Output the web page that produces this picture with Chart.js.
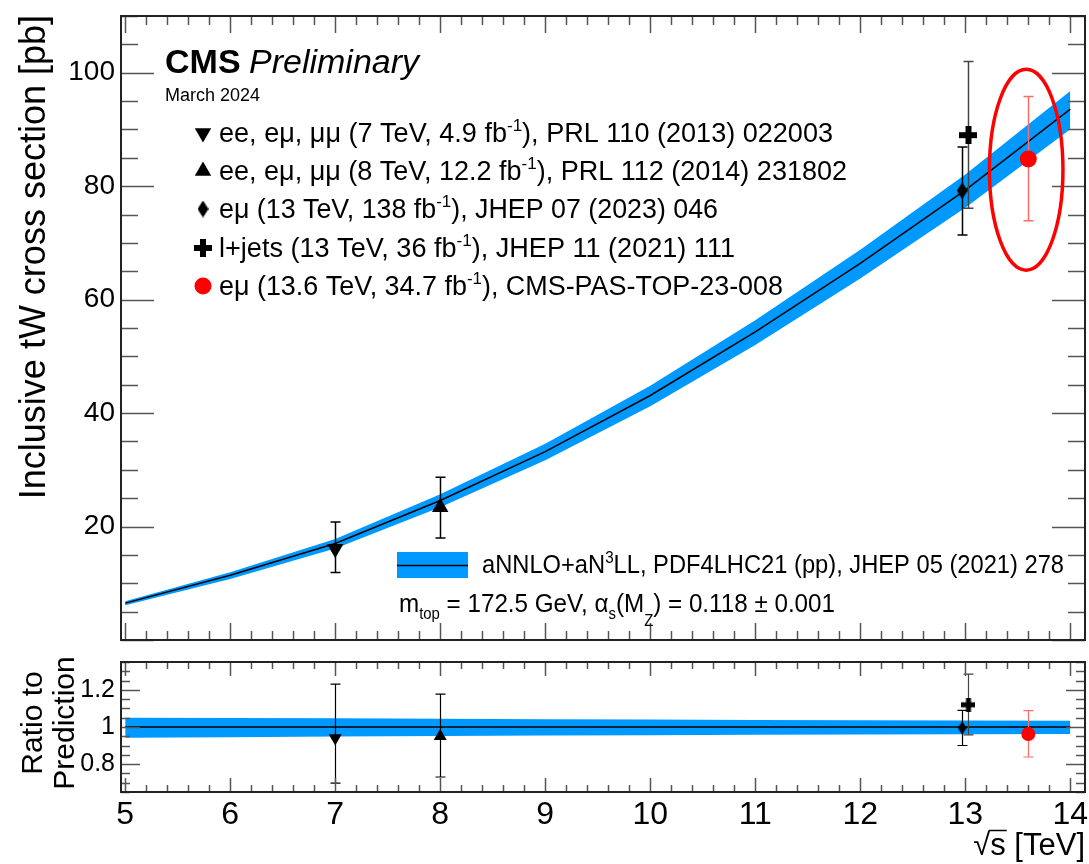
<!DOCTYPE html>
<html>
<head>
<meta charset="utf-8">
<title>Inclusive tW cross section</title>
<script src="https://cdn.jsdelivr.net/npm/chart.js"></script>
<style>
  html, body { margin: 0; padding: 0; background: #fff; }
  #wrap { position: relative; width: 1089px; height: 864px; }
  canvas { position: absolute; left: 0; }
  #main { top: 0; }
  #ratio { top: 650px; }
</style>
</head>
<body>
<div id="wrap">
  <canvas id="main" width="1089" height="650"></canvas>
  <canvas id="ratio" width="1089" height="214"></canvas>
</div>
<script>
// aNNLO+aN3LL prediction vs sqrt(s) [TeV], cross section in pb
const sqrtS = [5, 6, 7, 8, 9, 10, 11, 12, 13, 14];
const theory = [6.5, 11.4, 17.0, 24.6, 33.2, 43.1, 54.3, 66.4, 79.3, 93.6];
// relative uncertainty of the prediction (up / down)
const theoryRelUp = [0.050, 0.049, 0.047, 0.044, 0.042, 0.040, 0.038, 0.036, 0.035, 0.034];
const theoryRelDown = [0.058, 0.055, 0.051, 0.049, 0.046, 0.044, 0.042, 0.040, 0.039, 0.038];

// CMS measurements (13 TeV points slightly shifted apart)
const measEnergy = [7, 8, 12.97, 13.03, 13.6];
const measXsec = [16.1, 23.4, 79.2, 89.0, 84.8];
const measXsecHi = [20.8, 28.7, 86.9, 102.0, 95.8];
const measXsecLo = [11.9, 18.0, 71.4, 76.1, 73.9];
const measRatio = [0.94, 0.95, 0.995, 1.12, 0.962];
const measRatioHi = [1.232, 1.178, 1.09, 1.285, 1.088];
const measRatioLo = [0.697, 0.73, 0.90, 0.957, 0.838];

const measLegend = [
  [['ee, eμ, μμ (7 TeV, 4.9 fb', 'n'], ['-1', 'sup'], ['), PRL 110 (2013) 022003', 'n']],
  [['ee, eμ, μμ (8 TeV, 12.2 fb', 'n'], ['-1', 'sup'], ['), PRL 112 (2014) 231802', 'n']],
  [['eμ (13 TeV, 138 fb', 'n'], ['-1', 'sup'], ['), JHEP 07 (2023) 046', 'n']],
  [['l+jets (13 TeV, 36 fb', 'n'], ['-1', 'sup'], ['), JHEP 11 (2021) 111', 'n']],
  [['eμ (13.6 TeV, 34.7 fb', 'n'], ['-1', 'sup'], ['), CMS-PAS-TOP-23-008', 'n']]
];
const theoryLegend = [['aNNLO+aN', 'n'], ['3', 'sup'], ['LL, PDF4LHC21 (pp), JHEP 05 (2021) 278', 'n']];
const theoryNote = [['m', 'n'], ['top', 'sub'], [' = 172.5 GeV, α', 'n'], ['s', 'sub'], ['(M', 'n'], ['Z', 'subZ'], [') = 0.118 ± 0.001', 'n']];

const xTicks = [5, 6, 7, 8, 9, 10, 11, 12, 13, 14];
const yTicksMain = [20, 40, 60, 80, 100];
const yTicksRatio = [0.8, 1, 1.2];

const FONT = '"Liberation Sans", Arial, sans-serif';
const BLUE = '#0099ff';
Chart.defaults.font.family = FONT;
Chart.defaults.color = '#000';

// filled diamond / thick cross markers as small canvases
function makeDiamond(w, h) {
  const c = document.createElement('canvas');
  c.width = w; c.height = h;
  const g = c.getContext('2d');
  g.fillStyle = '#000';
  g.beginPath();
  g.moveTo(w / 2, 0); g.lineTo(w, h / 2); g.lineTo(w / 2, h); g.lineTo(0, h / 2);
  g.closePath(); g.fill();
  return c;
}
function makeCross(s, t) {
  const c = document.createElement('canvas');
  c.width = s; c.height = s;
  const g = c.getContext('2d');
  g.fillStyle = '#000';
  g.fillRect((s - t) / 2, 0, t, s);
  g.fillRect(0, (s - t) / 2, s, t);
  return c;
}

const mainMarkers = [
  { pointStyle: 'triangle', rotation: 180, radius: 9.5, color: '#000' },
  { pointStyle: 'triangle', rotation: 0, radius: 9.5, color: '#000' },
  { pointStyle: makeDiamond(11, 17), rotation: 0, radius: 8, color: '#000' },
  { pointStyle: makeCross(18, 6), rotation: 0, radius: 8, color: '#000' },
  { pointStyle: 'circle', rotation: 0, radius: 8.5, color: '#ff0000' }
];
const ratioMarkers = [
  { pointStyle: 'triangle', rotation: 180, radius: 7.5, color: '#000' },
  { pointStyle: 'triangle', rotation: 0, radius: 7.5, color: '#000' },
  { pointStyle: makeDiamond(9, 13), rotation: 0, radius: 6, color: '#000' },
  { pointStyle: makeCross(14, 5), rotation: 0, radius: 6, color: '#000' },
  { pointStyle: 'circle', rotation: 0, radius: 7, color: '#ff0000' }
];
const barColors = ['#000', '#000', '#000', '#444', '#ff6a6a'];

// text with super/subscripts, optionally squeezed to a given width
function drawRich(ctx, parts, x, y, size, width) {
  const fontOf = k => (k === 'n' ? size : Math.round(size * 0.62)) + 'px ' + FONT;
  let total = 0;
  parts.forEach(([t, k]) => { ctx.font = fontOf(k); total += ctx.measureText(t).width; });
  const sx = width ? width / total : 1;
  ctx.save();
  ctx.translate(x, y);
  ctx.scale(sx, 1);
  ctx.textAlign = 'left';
  ctx.textBaseline = 'alphabetic';
  let cx = 0;
  parts.forEach(([t, k]) => {
    ctx.font = fontOf(k);
    let dy = 0;
    if (k === 'sup') dy = -size * 0.42;
    if (k === 'sub') dy = size * 0.25;
    if (k === 'subZ') dy = size * 0.55;
    ctx.fillText(t, cx, dy);
    cx += ctx.measureText(t).width;
  });
  ctx.restore();
}

// ROOT-like frame with inward ticks on all four sides
function makeFrame(cfg) {
  const ticksOf = (min, max, step) => {
    const out = [];
    const n0 = Math.ceil(min / step - 1e-6), n1 = Math.floor(max / step + 1e-6);
    for (let k = n0; k <= n1; k++) out.push(k * step);
    return out;
  };
  const isMajor = (v, m) => Math.abs(v / m - Math.round(v / m)) < 1e-6;
  return {
    id: 'frame',
    afterDraw(chart) {
      const { ctx, chartArea: a, scales: { x, y } } = chart;
      ctx.save();
      ctx.strokeStyle = '#555';
      ctx.lineWidth = 1.5;
      ctx.beginPath();
      ticksOf(x.min, x.max, cfg.xMinor).forEach(v => {
        const px = Math.round(x.getPixelForValue(v)) + 0.5;
        const len = isMajor(v, cfg.xMajor) ? cfg.xMajorLen : cfg.xMinorLen;
        ctx.moveTo(px, a.bottom); ctx.lineTo(px, a.bottom - len);
        ctx.moveTo(px, a.top); ctx.lineTo(px, a.top + len);
      });
      ticksOf(y.min, y.max, cfg.yMinor).forEach(v => {
        const py = Math.round(y.getPixelForValue(v)) + 0.5;
        const len = isMajor(v, cfg.yMajor) ? cfg.yMajorLen : cfg.yMinorLen;
        ctx.moveTo(a.left, py); ctx.lineTo(a.left + len, py);
        ctx.moveTo(a.right, py); ctx.lineTo(a.right - len, py);
      });
      ctx.stroke();
      ctx.strokeStyle = '#222';
      ctx.lineWidth = 2;
      ctx.strokeRect(a.left, a.top, a.right - a.left, a.bottom - a.top);
      ctx.restore();
    }
  };
}

// vertical error bars, drawn after the prediction line and before the markers
function makeErrorBars(lo, hi, cap, width) {
  return {
    id: 'errorBars',
    afterDatasetDraw(chart, args) {
      if (chart.data.datasets[args.index].id !== 'theoryLine') return;
      const { ctx, scales: { x, y } } = chart;
      ctx.save();
      ctx.lineWidth = width;
      measEnergy.forEach((e, i) => {
        const px = Math.round(x.getPixelForValue(e)) + 0.5;
        const top = y.getPixelForValue(hi[i]);
        const bot = y.getPixelForValue(lo[i]);
        ctx.strokeStyle = barColors[i];
        ctx.beginPath();
        ctx.moveTo(px, top); ctx.lineTo(px, bot);
        ctx.moveTo(px - cap, top); ctx.lineTo(px + cap, top);
        ctx.moveTo(px - cap, bot); ctx.lineTo(px + cap, bot);
        ctx.stroke();
      });
      ctx.restore();
    }
  };
}

function markerDatasets(values, markers) {
  return measEnergy.map((e, i) => ({
    type: 'scatter',
    data: [{ x: e, y: values[i] }],
    pointStyle: markers[i].pointStyle,
    rotation: markers[i].rotation,
    radius: markers[i].radius,
    backgroundColor: markers[i].color,
    borderColor: markers[i].color,
    borderWidth: 0,
    order: 1
  }));
}

function bandDatasets(up, down, center) {
  return [
    { id: 'bandHi', data: sqrtS.map((s, i) => ({ x: s, y: up[i] })), borderWidth: 0, pointRadius: 0,
      backgroundColor: BLUE, fill: '+1', order: 4 },
    { id: 'bandLo', data: sqrtS.map((s, i) => ({ x: s, y: down[i] })), borderWidth: 0, pointRadius: 0,
      fill: false, order: 4 },
    { id: 'theoryLine', data: sqrtS.map((s, i) => ({ x: s, y: center[i] })), borderColor: '#000',
      borderWidth: 1.5, pointRadius: 0, fill: false, order: 3 }
  ];
}

const xScaleBase = {
  type: 'linear', min: 4.96, max: 14.14,
  grid: { display: false }, border: { display: false },
  afterBuildTicks: s => { s.ticks = xTicks.map(v => ({ value: v })); }
};
const noPad = s => { s.paddingLeft = 0; s.paddingRight = 0; s.paddingTop = 0; s.paddingBottom = 0; };

// upper panel: cross section
const mainText = {
  id: 'mainText',
  afterDraw(chart) {
    const { ctx, scales: { x, y } } = chart;
    ctx.save();
    ctx.fillStyle = '#000';

    // highlight around the 13.6 TeV result
    ctx.strokeStyle = '#ff0000';
    ctx.lineWidth = 3.5;
    ctx.beginPath();
    const cx = x.getPixelForValue(13.58), cy = y.getPixelForValue(82.9);
    const rx = x.getPixelForValue(13.93) - cx, ry = cy - y.getPixelForValue(100.6);
    ctx.ellipse(cx, cy, rx, ry, 0, 0, Math.PI * 2);
    ctx.stroke();

    ctx.textBaseline = 'alphabetic';
    ctx.font = 'bold 34px ' + FONT;
    ctx.fillText('CMS', 165, 73);
    ctx.font = 'italic 34px ' + FONT;
    ctx.fillText('Preliminary', 249, 73);
    ctx.font = '18px ' + FONT;
    ctx.fillText('March 2024', 165, 101);

    const rowBase = [142, 180, 218, 257, 295];
    const rowWidth = [614, 628, 499, 516, 564];
    measLegend.forEach((parts, i) => {
      const m = mainMarkers[i];
      ctx.fillStyle = m.color;
      Chart.helpers.drawPoint(ctx, { pointStyle: m.pointStyle, rotation: m.rotation, radius: m.radius, borderWidth: 0 },
        203, rowBase[i] - 9);
      ctx.fillStyle = '#000';
      drawRich(ctx, parts, 219, rowBase[i], 27, rowWidth[i]);
    });

    // prediction legend
    ctx.fillStyle = BLUE;
    ctx.fillRect(397, 552, 71, 26);
    ctx.strokeStyle = '#000';
    ctx.lineWidth = 1.5;
    ctx.beginPath(); ctx.moveTo(397, 565.5); ctx.lineTo(468, 565.5); ctx.stroke();
    ctx.fillStyle = '#000';
    drawRich(ctx, theoryLegend, 482, 573, 25, 582);
    drawRich(ctx, theoryNote, 399, 612, 26, 436);

    // y-axis title
    ctx.save();
    ctx.translate(45, 15);
    ctx.rotate(-Math.PI / 2);
    ctx.textAlign = 'right';
    ctx.font = '36px ' + FONT;
    ctx.fillText('Inclusive tW cross section [pb]', 0, 0);
    ctx.restore();

    ctx.restore();
  }
};

new Chart(document.getElementById('main'), {
  type: 'line',
  data: {
    datasets: [
      ...bandDatasets(
        theory.map((v, i) => v * (1 + theoryRelUp[i])),
        theory.map((v, i) => v * (1 - theoryRelDown[i])),
        theory),
      ...markerDatasets(measXsec, mainMarkers)
    ]
  },
  options: {
    responsive: false,
    animation: false,
    devicePixelRatio: 1,
    events: [],
    layout: { autoPadding: false, padding: { left: 0, top: 16, right: 4, bottom: 10 } },
    plugins: { legend: { display: false }, tooltip: { enabled: false } },
    scales: {
      x: { ...xScaleBase, ticks: { display: false },
        afterFit: s => { s.height = 0; noPad(s); } },
      y: {
        min: 0, max: 110,
        grid: { display: false, drawTicks: false }, border: { display: false },
        ticks: { font: { size: 28 }, padding: 6, color: '#000', callback: v => String(v) },
        afterBuildTicks: s => { s.ticks = yTicksMain.map(v => ({ value: v })); },
        afterFit: s => { s.width = 121; noPad(s); }
      }
    }
  },
  plugins: [
    makeErrorBars(measXsecLo, measXsecHi, 5, 1.5),
    makeFrame({ xMajor: 1, xMinor: 0.2, xMajorLen: 17, xMinorLen: 9, yMajor: 20, yMinor: 5, yMajorLen: 33, yMinorLen: 17 }),
    mainText
  ]
});

// lower panel: ratio to prediction
const ratioText = {
  id: 'ratioText',
  afterDraw(chart) {
    const { ctx } = chart;
    ctx.save();
    ctx.fillStyle = '#000';
    ctx.font = '30px ' + FONT;
    ctx.textAlign = 'center';
    [['Ratio to', 42], ['Prediction', 74]].forEach(([t, bx]) => {
      ctx.save();
      ctx.translate(bx, 723 - 650);
      ctx.rotate(-Math.PI / 2);
      ctx.fillText(t, 0, 0);
      ctx.restore();
    });
    // sqrt(s) [TeV]
    ctx.font = '31px ' + FONT;
    ctx.textAlign = 'left';
    const wRoot = ctx.measureText('√').width;
    const wS = ctx.measureText('s').width;
    const total = ctx.measureText('√s [TeV]').width;
    const x0 = 1085 - total, base = 855 - 650;
    ctx.fillText('√s [TeV]', x0, base);
    ctx.strokeStyle = '#000';
    ctx.lineWidth = 1.5;
    ctx.beginPath();
    ctx.moveTo(x0 + wRoot - 1, base - 24.5);
    ctx.lineTo(x0 + wRoot + wS + 1, base - 24.5);
    ctx.stroke();
    ctx.restore();
  }
};

new Chart(document.getElementById('ratio'), {
  type: 'line',
  data: {
    datasets: [
      ...bandDatasets(
        theoryRelUp.map(u => 1 + u),
        theoryRelDown.map(d => 1 - d),
        sqrtS.map(() => 1)),
      ...markerDatasets(measRatio, ratioMarkers)
    ]
  },
  options: {
    responsive: false,
    animation: false,
    devicePixelRatio: 1,
    events: [],
    layout: { autoPadding: false, padding: { left: 0, top: 12, right: 4, bottom: 0 } },
    plugins: { legend: { display: false }, tooltip: { enabled: false } },
    scales: {
      x: { ...xScaleBase,
        ticks: { font: { size: 32, lineHeight: 1 }, padding: -1, color: '#000', autoSkip: false, maxRotation: 0, callback: v => String(v) },
        afterFit: s => { s.height = 72; noPad(s); } },
      y: {
        min: 0.649, max: 1.351,
        grid: { display: false, drawTicks: false }, border: { display: false },
        ticks: { font: { size: 25 }, padding: 6, color: '#000', callback: v => String(v) },
        afterBuildTicks: s => { s.ticks = yTicksRatio.map(v => ({ value: v })); },
        afterFit: s => { s.width = 121; noPad(s); }
      }
    }
  },
  plugins: [
    makeErrorBars(measRatioLo, measRatioHi, 5, 1.2),
    makeFrame({ xMajor: 1, xMinor: 0.2, xMajorLen: 14, xMinorLen: 7, yMajor: 0.2, yMinor: 0.05, yMajorLen: 19, yMinorLen: 9 }),
    ratioText
  ]
});
</script>
</body>
</html>
